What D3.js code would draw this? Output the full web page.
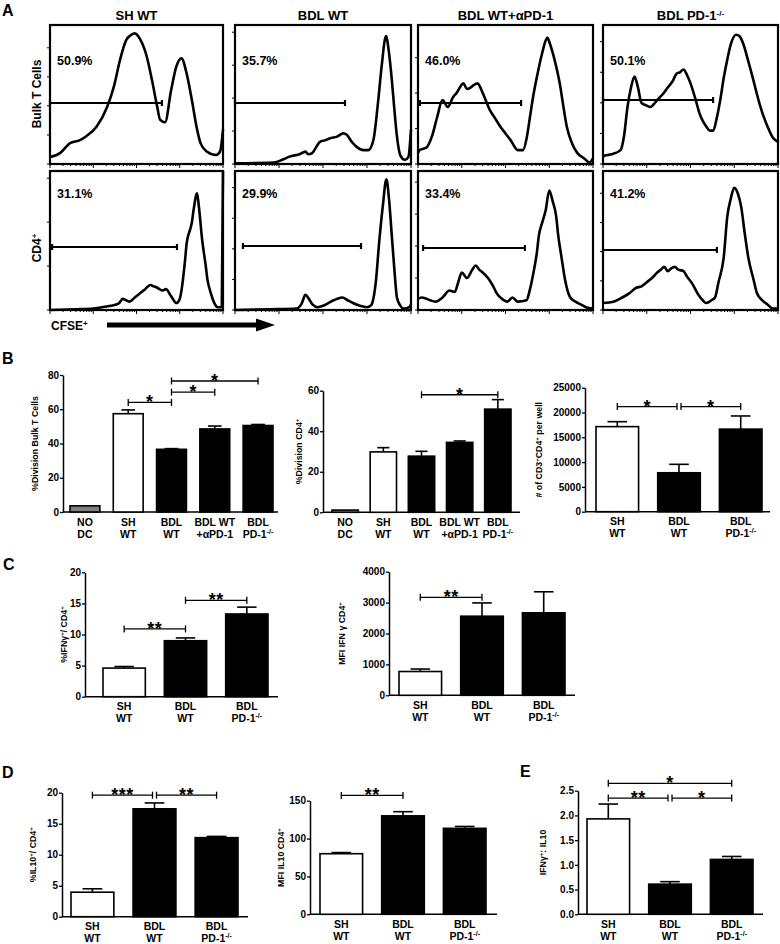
<!DOCTYPE html>
<html>
<head>
<meta charset="utf-8">
<script src="https://cdn.jsdelivr.net/npm/d3@7"></script>
<style>
body { margin:0; background:#fff; }
svg { display:block; font-family:"Liberation Sans", Arial, sans-serif; font-weight:bold; }
</style>
</head>
<body>
<script>
///////////////////   Panel A data (flow histograms)   /////////////////

var histCols = ["SH WT", "BDL WT", "BDL WT+αPD-1", "BDL PD-1{-/-}"];
var histRows = ["Bulk T Cells", "CD4{+}"];
var bulkPct = ["50.9%", "35.7%", "46.0%", "50.1%"];
var cd4Pct  = ["31.1%", "29.9%", "33.4%", "41.2%"];

// [CFSE position 0-100, count 0-100]
var bulkShWt = [[0,5],[6,8],[11.6,15],[17,17],[21,20],[27,27],[33,41],[37,56],[40.5,75],[44,89],[47,93],[49,94],[52,90],[56,77],[59,60],[62,41],[63.6,32],[66.5,30],[70,53],[73,70],[76,76],[79,65],[82,46],[85,25],[87,15],[90.6,9],[96,6.5],[98.3,9],[100,25]];
var bulkBdlWt = [[0,0.5],[22,1],[27.5,3.4],[31,5.3],[37,7.2],[40,8.9],[41.7,7],[43.6,7.7],[48.3,16],[51,17],[54,18.5],[58,19.7],[61.5,22],[63.5,21],[66.3,16],[69,12.5],[73,10],[75.7,10],[78.6,17],[81.4,46],[83.3,70],[85.8,92],[87.5,80],[89,62],[90.5,40],[92,20],[94,6],[96.5,3],[98.5,5],[100,25]];
var bulkBdlPd1Ab = [[0,8],[1,10],[5,12],[8,20],[11,34],[14,46],[17,41],[20,48],[22,51],[26,58],[28,54],[30,55],[32,57],[34,58],[37,51],[41,39],[44,33],[47,27],[50,22],[53,17],[57,10],[60,10],[62,18],[64,34],[66,50],[68,63],[71,80],[73,89],[74,91],[75,88],[77,80],[79,70],[81,58],[83,42],[85,27],[88,15],[91,8],[95,4],[98,1],[100,4]];
var bulkBdlKo = [[0,5],[1,6],[5,7],[10,10],[12,20],[14,41],[16,55],[18,63],[20,55],[22,44],[25,42],[27,41],[29,43],[31,46],[34,50],[37,55],[40,60],[42,65],[44,66],[46,68],[48,64],[50,58],[53,46],[55,37],[57,31],[59,27],[61,24],[63,24],[65,33],[67,46],[69,62],[71,75],[73,86],[76,93],[78,92],[80,87],[83,74],[86,60],[88,50],[91,37],[94,27],[97,19],[100,16]];

var cd4ShWt = [[0,0],[15,0.5],[25,1],[30,2],[35,3],[40,5],[42,8],[44,7],[46,6],[49,9],[52,12],[55,15],[58,18],[60,17],[62,16],[65,14],[67,15],[70,10],[73,5],[75,8],[76,14],[78,35],[79,48],[81,58],[82,63],[83,72],[85,84],[86,75],[88,50],[90,32],[91,22],[93,12],[95,5],[97,2],[99.3,2],[100,100]];
var cd4BdlWt = [[0,0],[20,0.5],[35,1],[38,5],[40,11],[42,8],[44,4],[47,2],[50,3],[53,5],[56,7],[58,8],[61,9],[64,7],[67,5],[71,3],[75,2],[77,3],[78,5],[80,20],[82,50],[84,75],[86,94],[87.5,80],[89,55],[90.5,30],[92,9],[94,3],[96,1],[99,2],[100,4]];
var cd4BdlPd1Ab = [[0,8],[2,9],[5,8],[7,7],[10,6],[14,9],[18,14],[21,13],[23,20],[25,27],[28,23],[31,29],[33,32],[35,29],[37,27],[40,23],[43,17],[45,12],[48,8],[51,6],[54,9],[57,6],[62,7],[64,15],[66,27],[68,42],[69,53],[71,63],[73,72],[75,86],[77,78],[79,67],[80,55],[82,38],[84,22],[87,9],[90,6],[93,4],[96,2],[100,1]];
var cd4BdlKo = [[0,5],[6,6],[11,9],[15,12],[19,16],[22,17],[25,20],[28,23],[31,27],[33,29],[35,31],[37,28],[39,30],[41,31],[43,29],[46,28],[48,24],[51,19],[54,12],[57,7],[59,5],[62,7],[64,9],[66,20],[69,38],[71,67],[73,80],[75,88],[77,84],[79,74],[81,55],[83,38],[86,22],[88,12],[91,7],[94,4],[97,1],[100,1]];

// gate: [start, end, height]
var bulkGates = [[0,64.7,43.9],[0,62.5,43.9],[1.1,58.9,43.9],[0,62.9,46]];
var cd4Gates  = [[1.2,73.4,45.3],[4.5,71.6,46],[2.9,61.1,44.6],[0,65.1,43.2]];

///////////////////   Bar chart data   /////////////////

var groups5 = [["NO","DC"],["SH","WT"],["BDL","WT"],["BDL WT","+αPD-1"],["BDL","PD-1{-/-}"]];
var groups3 = [["SH","WT"],["BDL","WT"],["BDL","PD-1{-/-}"]];
var fills5 = ["#808080","#ffffff","#000000","#000000","#000000"];
var fills3 = ["#ffffff","#000000","#000000"];

var divBulkMean = [3.6, 57.4, 36.6, 48.5, 50.5];
var divBulkErr  = [0, 2.2, 0.4, 1.7, 0.6];
var divCd4Mean  = [1.1, 29.8, 27.7, 34.5, 50.9];
var divCd4Err   = [0, 2.1, 2.4, 0.7, 4.7];
var cellMean    = [17150, 7850, 16650];
var cellErr     = [1000, 1700, 2650];
var ifngPctMean = [4.6, 9.0, 13.3];
var ifngPctErr  = [0.25, 0.45, 1.1];
var ifngMfiMean = [770, 2560, 2670];
var ifngMfiErr  = [80, 430, 680];
var il10PctMean = [3.95, 17.4, 12.75];
var il10PctErr  = [0.55, 0.95, 0.2];
var il10MfiMean = [80, 130, 113.5];
var il10MfiErr  = [1.5, 5.5, 2.5];
var ratioMean   = [1.93, 0.61, 1.11];
var ratioErr    = [0.3, 0.05, 0.06];

// significance: [from, to, label, level in data units]
var sigDivBulk = [[1,2,"*",64],[2,3,"*",70],[2,4,"*",76.5]];
var sigDivCd4  = [[2,4,"*",58]];
var sigCell    = [[0,1,"*",21200],[1,2,"*",21200]];
var sigIfngPct = [[0,1,"**",10.9],[1,2,"**",15.5]];
var sigIfngMfi = [[0,1,"**",3170]];
var sigIl10Pct = [[0,1,"***",19.6],[1,2,"**",19.6]];
var sigIl10Mfi = [[0,1,"**",157]];
var sigRatio   = [[0,2,"*",2.65],[0,1,"**",2.35],[1,2,"*",2.35]];

////////////////    Main rendering    //////////////

var svg = d3.select("body").append("svg")
    .attr("width", 780)
    .attr("height", 944);

// writes "CD4{+}" style strings, braces = superscript
function richText(sel, str, supSize){
    var parts = str.split(/(\{[^}]*\})/), shifted = false;
    parts.forEach(function(p){
        if(!p) return;
        if(p[0] == "{"){
            sel.append("tspan").attr("dy", -supSize*0.55).attr("font-size", supSize).text(p.slice(1,-1));
            shifted = true;
        } else {
            sel.append("tspan").attr("dy", shifted ? supSize*0.55 : 0).text(p);
            shifted = false;
        }
    });
    return sel;
}

// panel letters
[["A",2,16],["B",2,364],["C",3,570],["D",2,778],["E",520,777]].forEach(function(l){
    svg.append("text").attr("x", l[1]).attr("y", l[2]).attr("font-size", 16).text(l[0]);
});

// ---------- Panel A ----------
var boxX = [[50,223],[235,411],[418,593],[603,778]];
var boxY = [[25,164],[171,310]];
var curves = [[bulkShWt, bulkBdlWt, bulkBdlPd1Ab, bulkBdlKo], [cd4ShWt, cd4BdlWt, cd4BdlPd1Ab, cd4BdlKo]];
var gates = [bulkGates, cd4Gates];
var pcts = [bulkPct, cd4Pct];
var leftTickStep = [[20.9, 23.7, 25.5, 22], [31.6, 22, 23, 21]];
var pctBaseline = [40, 27];

histCols.forEach(function(c, ci){
    var t = svg.append("text")
        .attr("x", (boxX[ci][0]+boxX[ci][1])/2).attr("y", 20)
        .attr("text-anchor","middle").attr("font-size", 13);
    richText(t, c, 8);
});

histRows.forEach(function(r, ri){
    var cy = ri == 0 ? 94 : 248;
    var t = svg.append("text")
        .attr("transform", "translate(41," + cy + ") rotate(-90)")
        .attr("text-anchor","middle").attr("font-size", 12);
    richText(t, r, 8);
});

boxY.forEach(function(by, ri){
    boxX.forEach(function(bx, ci){
        var x = d3.scaleLinear().domain([0,100]).range([bx[0], bx[1]]);
        var y = d3.scaleLinear().domain([0,100]).range([by[1], by[0]]);
        var g = svg.append("g");

        // left ticks
        var step = leftTickStep[ri][ci];
        for(var v = 0; v <= 100.01; v += step){
            g.append("line").attr("x1", bx[0]-3).attr("x2", bx[0])
                .attr("y1", y(v)).attr("y2", y(v)).attr("stroke","#000").attr("stroke-width",1);
        }
        // bottom log ticks, 4 decades
        for(var d = 0; d < 4; d++){
            for(var k = 1; k <= 9; k++){
                var pos = (d + Math.log10(k)) * 25;
                g.append("line").attr("x1", x(pos)).attr("x2", x(pos))
                    .attr("y1", by[1]).attr("y2", by[1] + (k == 1 ? 4 : 2))
                    .attr("stroke","#000").attr("stroke-width",1);
            }
        }
        g.append("line").attr("x1", x(100)).attr("x2", x(100))
            .attr("y1", by[1]).attr("y2", by[1]+4).attr("stroke","#000").attr("stroke-width",1);

        // trace
        var line = d3.line().x(function(d){ return x(d[0]); }).y(function(d){ return y(d[1]); })
            .curve(d3.curveMonotoneX);
        g.append("path").datum(curves[ri][ci]).attr("d", line)
            .attr("fill","none").attr("stroke","#000").attr("stroke-width",2.6)
            .attr("stroke-linejoin","round");

        // gate
        var gt = gates[ri][ci];
        g.append("line").attr("x1", x(gt[0])).attr("x2", x(gt[1]))
            .attr("y1", y(gt[2])).attr("y2", y(gt[2])).attr("stroke","#000").attr("stroke-width",2);
        [gt[0], gt[1]].forEach(function(e){
            g.append("line").attr("x1", x(e)).attr("x2", x(e))
                .attr("y1", y(gt[2])-3).attr("y2", y(gt[2])+3).attr("stroke","#000").attr("stroke-width",2.2);
        });

        // percentage
        g.append("text").attr("x", bx[0]+7).attr("y", by[0]+pctBaseline[ri])
            .attr("font-size", 12.5).text(pcts[ri][ci]);

        // frame
        g.append("rect").attr("x", bx[0]).attr("y", by[0])
            .attr("width", bx[1]-bx[0]).attr("height", by[1]-by[0])
            .attr("fill","none").attr("stroke","#000").attr("stroke-width",2.2);
    });
});

// CFSE arrow
var cfse = svg.append("text").attr("x", 51).attr("y", 330).attr("font-size", 12);
richText(cfse, "CFSE{+}", 8);
svg.append("rect").attr("x", 107).attr("y", 322.5).attr("width", 152).attr("height", 5).attr("fill","#000");
svg.append("path").attr("d", "M256,318.5 L275,325 L256,331.5 Z").attr("fill","#000");

// ---------- Bar charts ----------
function barChart(s){
    var y = d3.scaleLinear().domain([0, s.max]).range([s.y0, s.y1]);
    var x = d3.scaleBand().domain(d3.range(s.means.length))
        .range([s.bx0, s.bx1]).paddingInner(0.31).paddingOuter(0);
    var bw = x.bandwidth();
    var g = svg.append("g");

    var axis = d3.axisLeft(y).tickValues(d3.range(0, s.max + s.step/2, s.step))
        .tickSize(3).tickSizeOuter(0).tickFormat(s.fmt);
    var ag = g.append("g").attr("transform", "translate(" + s.ax0 + ",0)").call(axis);
    ag.select(".domain").attr("stroke-width", 1.5);
    ag.selectAll(".tick line").attr("stroke-width", 1.3);
    ag.selectAll(".tick text").attr("font-size", 10).attr("font-family", null)
        .attr("font-weight","bold").attr("x", -4);

    g.append("line").attr("x1", s.ax0).attr("x2", s.ax1).attr("y1", s.y0).attr("y2", s.y0)
        .attr("stroke","#000").attr("stroke-width",1.5);

    // y label
    var yl = g.append("text")
        .attr("transform", "translate(" + (s.ax0 - s.labOff) + "," + ((s.y0+s.y1)/2) + ") rotate(-90)")
        .attr("text-anchor","middle").attr("font-size", 8.8);
    richText(yl, s.label, 6);

    // error bars (upper only)
    s.means.forEach(function(m, i){
        if(!s.errs[i]) return;
        var cx = x(i) + bw/2, top = y(m + s.errs[i]);
        g.append("line").attr("x1", cx).attr("x2", cx).attr("y1", y(m)).attr("y2", top)
            .attr("stroke","#000").attr("stroke-width",1.6);
        g.append("line").attr("x1", cx - bw*0.23).attr("x2", cx + bw*0.23).attr("y1", top).attr("y2", top)
            .attr("stroke","#000").attr("stroke-width",1.6);
    });

    // bars
    g.selectAll(".bar").data(s.means).enter().append("rect")
        .attr("x", function(d,i){ return x(i); })
        .attr("y", function(d){ return y(d); })
        .attr("width", bw)
        .attr("height", function(d){ return s.y0 - y(d); })
        .attr("fill", function(d,i){ return s.fills[i]; })
        .attr("stroke","#000").attr("stroke-width",1.6);

    // category labels
    s.groups.forEach(function(gr, i){
        var cx = x(i) + bw/2;
        gr.forEach(function(t, li){
            var tx = g.append("text").attr("x", cx).attr("y", s.y0 + 13.5 + li*12)
                .attr("text-anchor","middle").attr("font-size", 10.5);
            richText(tx, t, 7);
        });
    });

    // significance brackets
    s.sig.forEach(function(b){
        var xa = x(b[0]) + bw/2, xb = x(b[1]) + bw/2;
        s.sig.forEach(function(o){
            if(o === b || o[3] != b[3]) return;
            if(o[1] == b[0]) xa += 2;
            if(o[0] == b[1]) xb -= 2;
        });
        var yy = y(b[3]);
        g.append("line").attr("x1", xa).attr("x2", xb).attr("y1", yy).attr("y2", yy)
            .attr("stroke","#000").attr("stroke-width",1.3);
        [xa, xb].forEach(function(e){
            g.append("line").attr("x1", e).attr("x2", e).attr("y1", yy-3.5).attr("y2", yy+3.5)
                .attr("stroke","#000").attr("stroke-width",1.3);
        });
        g.append("text").attr("x", (xa+xb)/2).attr("y", yy + 6)
            .attr("text-anchor","middle").attr("font-size", 18).attr("letter-spacing", 0.5)
            .text(b[2]);
    });
}

var intFmt = d3.format("d");

barChart({means: divBulkMean, errs: divBulkErr, fills: fills5, groups: groups5, sig: sigDivBulk,
    max: 80, step: 20, fmt: intFmt, label: "%Division Bulk T Cells",
    ax0: 63, ax1: 278, bx0: 70, bx1: 273, y0: 512, y1: 375, labOff: 25});
barChart({means: divCd4Mean, errs: divCd4Err, fills: fills5, groups: groups5, sig: sigDivCd4,
    max: 60, step: 20, fmt: intFmt, label: "%Division CD4{+}",
    ax0: 323, ax1: 520, bx0: 332, bx1: 511, y0: 512.3, y1: 390.7, labOff: 21});
barChart({means: cellMean, errs: cellErr, fills: fills3, groups: groups3, sig: sigCell,
    max: 25000, step: 5000, fmt: intFmt, label: "# of CD3{+}CD4{+} per well",
    ax0: 585, ax1: 770, bx0: 596, bx1: 762, y0: 511.7, y1: 387.7, labOff: 43});
barChart({means: ifngPctMean, errs: ifngPctErr, fills: fills3, groups: groups3, sig: sigIfngPct,
    max: 20, step: 5, fmt: intFmt, label: "%IFNγ{+}/ CD4{+}",
    ax0: 85, ax1: 278, bx0: 103, bx1: 268, y0: 696.7, y1: 572.3, labOff: 18});
barChart({means: ifngMfiMean, errs: ifngMfiErr, fills: fills3, groups: groups3, sig: sigIfngMfi,
    max: 4000, step: 1000, fmt: intFmt, label: "MFI IFN γ CD4{+}",
    ax0: 389, ax1: 575, bx0: 399, bx1: 565, y0: 695.3, y1: 571.7, labOff: 44});
barChart({means: il10PctMean, errs: il10PctErr, fills: fills3, groups: groups3, sig: sigIl10Pct,
    max: 20, step: 5, fmt: intFmt, label: "%IL10{+}/ CD4{+}",
    ax0: 62, ax1: 248, bx0: 71, bx1: 238, y0: 916.7, y1: 792.7, labOff: 26});
barChart({means: il10MfiMean, errs: il10MfiErr, fills: fills3, groups: groups3, sig: sigIl10Mfi,
    max: 150, step: 50, fmt: intFmt, label: "MFI IL10 CD4{+}",
    ax0: 310, ax1: 497, bx0: 320, bx1: 486, y0: 914.3, y1: 800.7, labOff: 26});
barChart({means: ratioMean, errs: ratioErr, fills: fills3, groups: groups3, sig: sigRatio,
    max: 2.5, step: 0.5, fmt: d3.format(".1f"), label: "IFNγ{+}: IL10",
    ax0: 578, ax1: 763, bx0: 587, bx1: 753, y0: 914.3, y1: 790.7, labOff: 32});
</script>
</body>
</html>
